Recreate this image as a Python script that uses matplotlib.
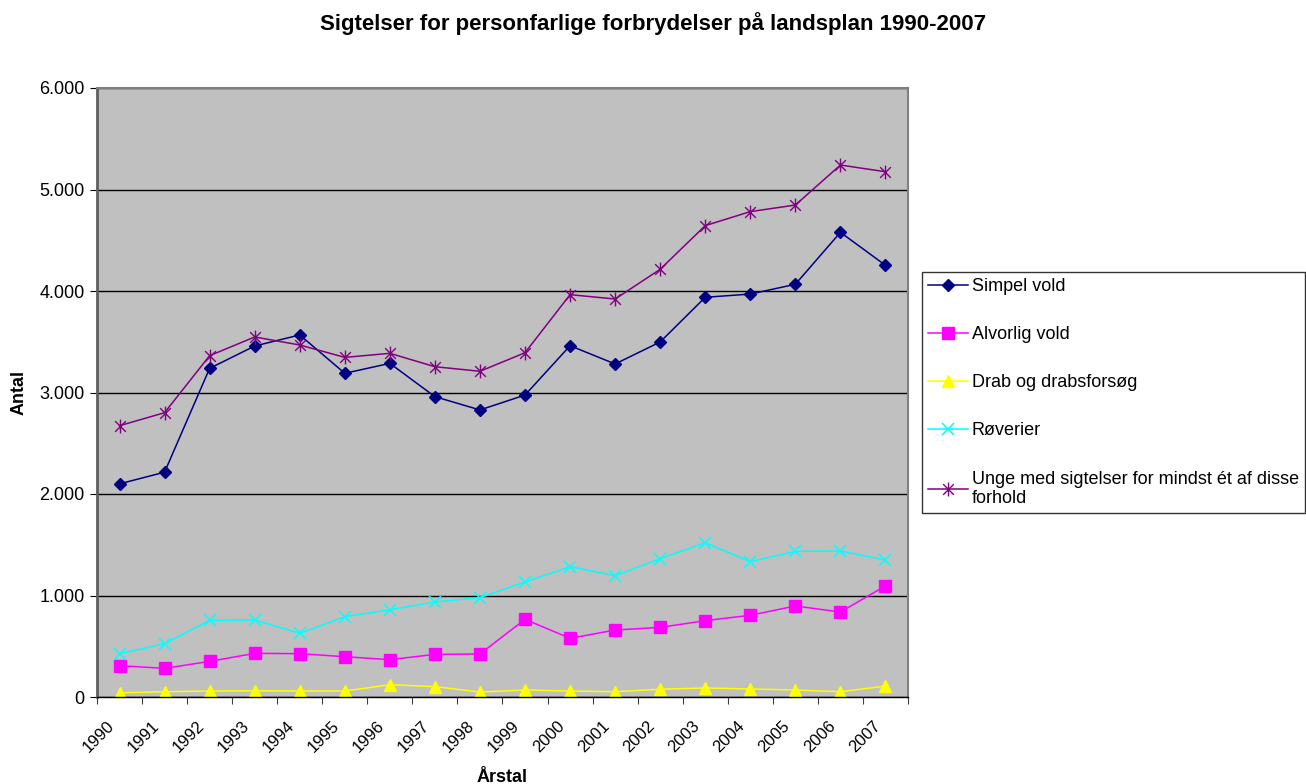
import matplotlib.pyplot as plt
from matplotlib.path import Path
from matplotlib.ticker import FuncFormatter
from matplotlib.transforms import ScaledTranslation

plt.rcParams['font.family'] = ['Liberation Sans', 'DejaVu Sans']

years = ['1990', '1991', '1992', '1993', '1994', '1995', '1996', '1997', '1998',
         '1999', '2000', '2001', '2002', '2003', '2004', '2005', '2006', '2007']

simpel_vold = [2100, 2215, 3238, 3458, 3567, 3189, 3287, 2959, 2828,
               2975, 3461, 3281, 3498, 3938, 3970, 4066, 4578, 4253]
alvorlig_vold = [309, 282, 351, 430, 427, 397, 368, 420, 424,
                 765, 578, 660, 686, 752, 805, 897, 837, 1094]
drab = [42, 52, 59, 62, 59, 59, 121, 102, 49,
        69, 59, 52, 76, 89, 79, 69, 52, 108]
roverier = [427, 525, 755, 759, 627, 791, 860, 936, 979,
            1133, 1284, 1195, 1363, 1520, 1333, 1435, 1438, 1350]
unge = [2673, 2801, 3363, 3547, 3468, 3346, 3386, 3254, 3209,
        3392, 3964, 3921, 4214, 4644, 4782, 4847, 5241, 5175]

labels = ['Simpel vold', 'Alvorlig vold', 'Drab og drabsforsøg', 'Røverier',
          'Unge med sigtelser for mindst ét af disse\nforhold']

# excel style star: an x with a vertical bar through it
star = Path([(-1, -1), (1, 1), (-1, 1), (1, -1), (0, -1.3), (0, 1.3)],
            [Path.MOVETO, Path.LINETO, Path.MOVETO, Path.LINETO, Path.MOVETO, Path.LINETO])

fig = plt.figure(figsize=(13.06, 7.84), dpi=100)
ax = fig.add_axes([97 / 1306, 87 / 784, 811 / 1306, 609 / 784])
ax.set_facecolor('#C0C0C0')

x = list(range(len(years)))
ax.plot(x, simpel_vold, color='#000080', lw=1.1, marker='D', ms=6, label=labels[0])
ax.plot(x, alvorlig_vold, color='#FF00FF', lw=1.1, marker='s', ms=8, label=labels[1])
ax.plot(x, drab, color='#FFFF00', lw=1.1, marker='^', ms=8, label=labels[2])
ax.plot(x, roverier, color='#00FFFF', lw=1.1, marker='x', ms=8, mew=1.1, label=labels[3])
ax.plot(x, unge, color='#800080', lw=1.1, marker=star, ms=10, mew=1.0, label=labels[4])

ax.set_xlim(-0.5, len(years) - 0.5)
ax.set_ylim(0, 6000)
ax.set_yticks(range(0, 6001, 1000))
ax.yaxis.set_major_formatter(FuncFormatter(lambda v, p: f"{int(v):,}".replace(',', '.')))
ax.yaxis.grid(True, color='black', lw=1.0)
ax.set_axisbelow(True)

ax.set_xticks([i - 0.5 for i in range(len(years) + 1)])
ax.set_xticklabels([])
ax.set_xticks(x, minor=True)
ax.tick_params(axis='x', which='minor', length=0, pad=15)
ax.tick_params(axis='x', which='major', length=5, color='#404040')
ax.tick_params(axis='y', length=5, labelsize=13, pad=4)
ax.set_xticklabels(years, minor=True, rotation=45, ha='right', va='top',
                   rotation_mode='anchor', fontsize=12)
# nudge the rotated year labels left, like excel places them
shift = ScaledTranslation(-13 / 100, 0, fig.dpi_scale_trans)
for lab in ax.get_xticklabels(minor=True):
    lab.set_transform(lab.get_transform() + shift)

for side in ['top', 'right']:
    ax.spines[side].set_color('#808080')
    ax.spines[side].set_linewidth(1.5)
ax.spines['left'].set_color('#606060')
ax.spines['left'].set_linewidth(2)
ax.spines['bottom'].set_color('black')
ax.spines['bottom'].set_linewidth(1)

ax.set_ylabel('Antal', fontsize=13, fontweight='bold', labelpad=8)
ax.set_xlabel('Årstal', fontsize=13, fontweight='bold', labelpad=10)
fig.suptitle('Sigtelser for personfarlige forbrydelser på landsplan 1990-2007',
             fontsize=16, fontweight='bold', x=0.5, y=0.985)

leg = fig.legend(loc='upper left', bbox_to_anchor=(922 / 1306, 1 - 272 / 784),
                 fontsize=13, frameon=True, fancybox=False, edgecolor='black',
                 labelspacing=1.72, handlelength=2.2, handletextpad=0.2,
                 borderpad=0.35, borderaxespad=0)
leg.get_frame().set_linewidth(1.0)

fig.savefig('out.png', dpi=100)
